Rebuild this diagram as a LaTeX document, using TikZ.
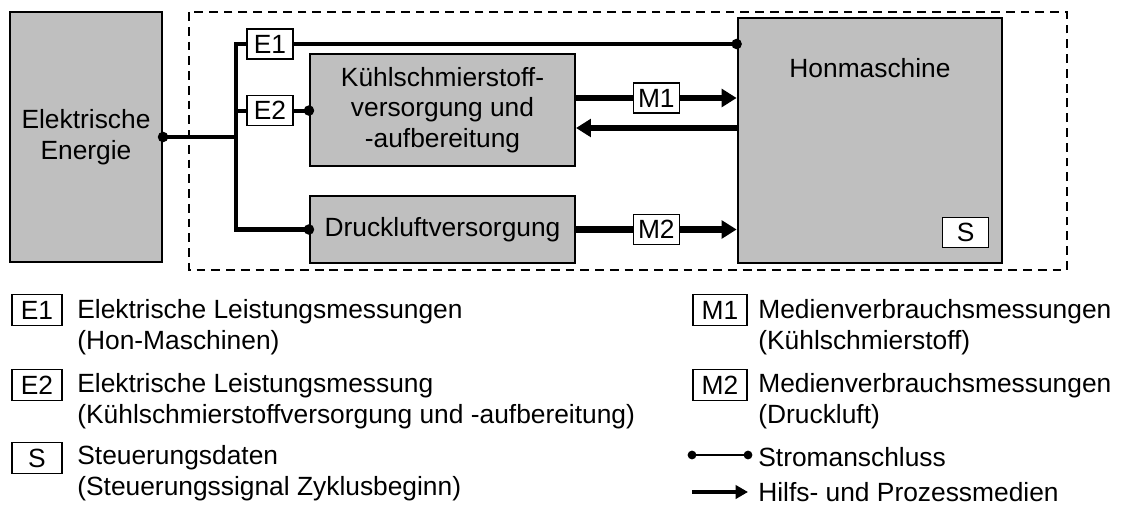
\documentclass[tikz,border=0pt]{standalone}
\usepackage{fontspec}
\setmainfont{Liberation Sans}
\usetikzlibrary{positioning,arrows.meta}
\definecolor{boxfill}{gray}{0.75}
\tikzset{
  unit/.style = {draw,line width=1.2pt,fill=boxfill,align=center,inner sep=2pt},
  meas/.style = {draw,line width=0.9pt,fill=white,minimum width=0.92cm,minimum height=0.6cm,inner sep=0pt},
  legbox/.style = {meas,minimum width=1.0cm,minimum height=0.62cm},
  legtext/.style = {align=left,anchor=west,inner sep=0pt},
  pwr/.style = {line width=2.3pt},
  media/.style = {line width=3.8pt,-{Triangle[length=8.5pt,width=10pt]}},
  dot/.style = {circle,fill,inner sep=0pt,minimum size=6pt}
}
\newlength{\lgap}
\setlength{\lgap}{0.28cm}

\begin{document}
\begin{tikzpicture}[x=0.02cm,y=-0.02cm,font=\fontsize{15}{17.5}\selectfont]
\useasboundingbox (0,0) rectangle (1121,509);

% system boundary
\draw[line width=1.2pt,dash pattern=on 5pt off 3.4pt] (189,12) rectangle (1067,270);

\node[unit,minimum width=3.04cm,minimum height=5cm] (energie) at (86,137) {Elektrische\\Energie};
\node[unit,minimum width=5.3cm,minimum height=2.24cm] (kuehl) at (442.5,110) {K\"uhlschmierstoff-\\versorgung und\\-aufbereitung};
\node[unit,minimum width=5.3cm,minimum height=1.34cm] (druck) at (442.5,229.5) {Druckluftversorgung};
\node[unit,line width=1.6pt,minimum width=5.28cm,minimum height=4.9cm] (hon) at (870,140.5) {};
\node (honlbl) at (870,68) {Honmaschine};
\node[meas,above left=0.32cm and \lgap of hon.south east] (s) {S};

% power supply
\coordinate (br) at (236,137);
\node[meas] (e1) at (270,44) {E1};
\node[meas,below=0.7cm of e1] (e2) {E2};
\draw[pwr] (energie.east) node[dot] {} -- (br);
\draw[pwr] (e1.west) -| (br |- druck.west) -- (druck.west) node[dot] {};
\draw[pwr] (e1.east) -- (e1 -| hon.west) node[dot] {};
\draw[pwr] (br |- e2) -- (e2.west);
\draw[pwr] (e2.east) -- (e2 -| kuehl.west) node[dot] {};

% media
\coordinate (m1in) at ([yshift=0.24cm]kuehl.east);
\coordinate (ret) at ([yshift=-0.36cm]kuehl.east);
\draw[media] (m1in) -- node[meas] (m1) {M1} (m1in -| hon.west);
\draw[media] (ret -| hon.west) -- (ret);
\draw[media] (druck.east) -- node[meas] (m2) {M2} (druck.east -| hon.west);

% legend
\node[legbox] (le1) at (37,310) {E1};
\node[legtext] (te1) at (77,327) {Elektrische Leistungsmessungen\\(Hon-Maschinen)};
\node[legbox] (le2) at (37,385) {E2};
\node[legtext] (te2) at (77,401) {Elektrische Leistungsmessung\\(K\"uhlschmierstoffversorgung und -aufbereitung)};
\node[legbox] (ls) at (37,458) {S};
\node[legtext] (ts) at (77,473) {Steuerungsdaten\\(Steuerungssignal Zyklusbeginn)};

\node[legbox,minimum width=1.08cm] (lm1) at (720,310) {M1};
\node[legtext] (tm1) at (758,327) {Medienverbrauchsmessungen\\(K\"uhlschmierstoff)};
\node[legbox,minimum width=1.08cm] (lm2) at (720,385) {M2};
\node[legtext] (tm2) at (758,401) {Medienverbrauchsmessungen\\(Druckluft)};

\coordinate (pa) at (692,455);
\coordinate (pb) at (748,455);
\draw[line width=1.4pt] (pa) node[dot,minimum size=5pt] {} -- (pb) node[dot,minimum size=5pt] {};
\node[legtext] (tp) at (758,457) {Stromanschluss};
\coordinate (ma) at (692,492);
\coordinate (mb) at (748,492);
\draw[line width=2.3pt,-{Triangle[length=7pt,width=7.5pt]}] (ma) -- (mb);
\node[legtext] (tmed) at (758,492) {Hilfs- und Prozessmedien};
\end{tikzpicture}
\end{document}
